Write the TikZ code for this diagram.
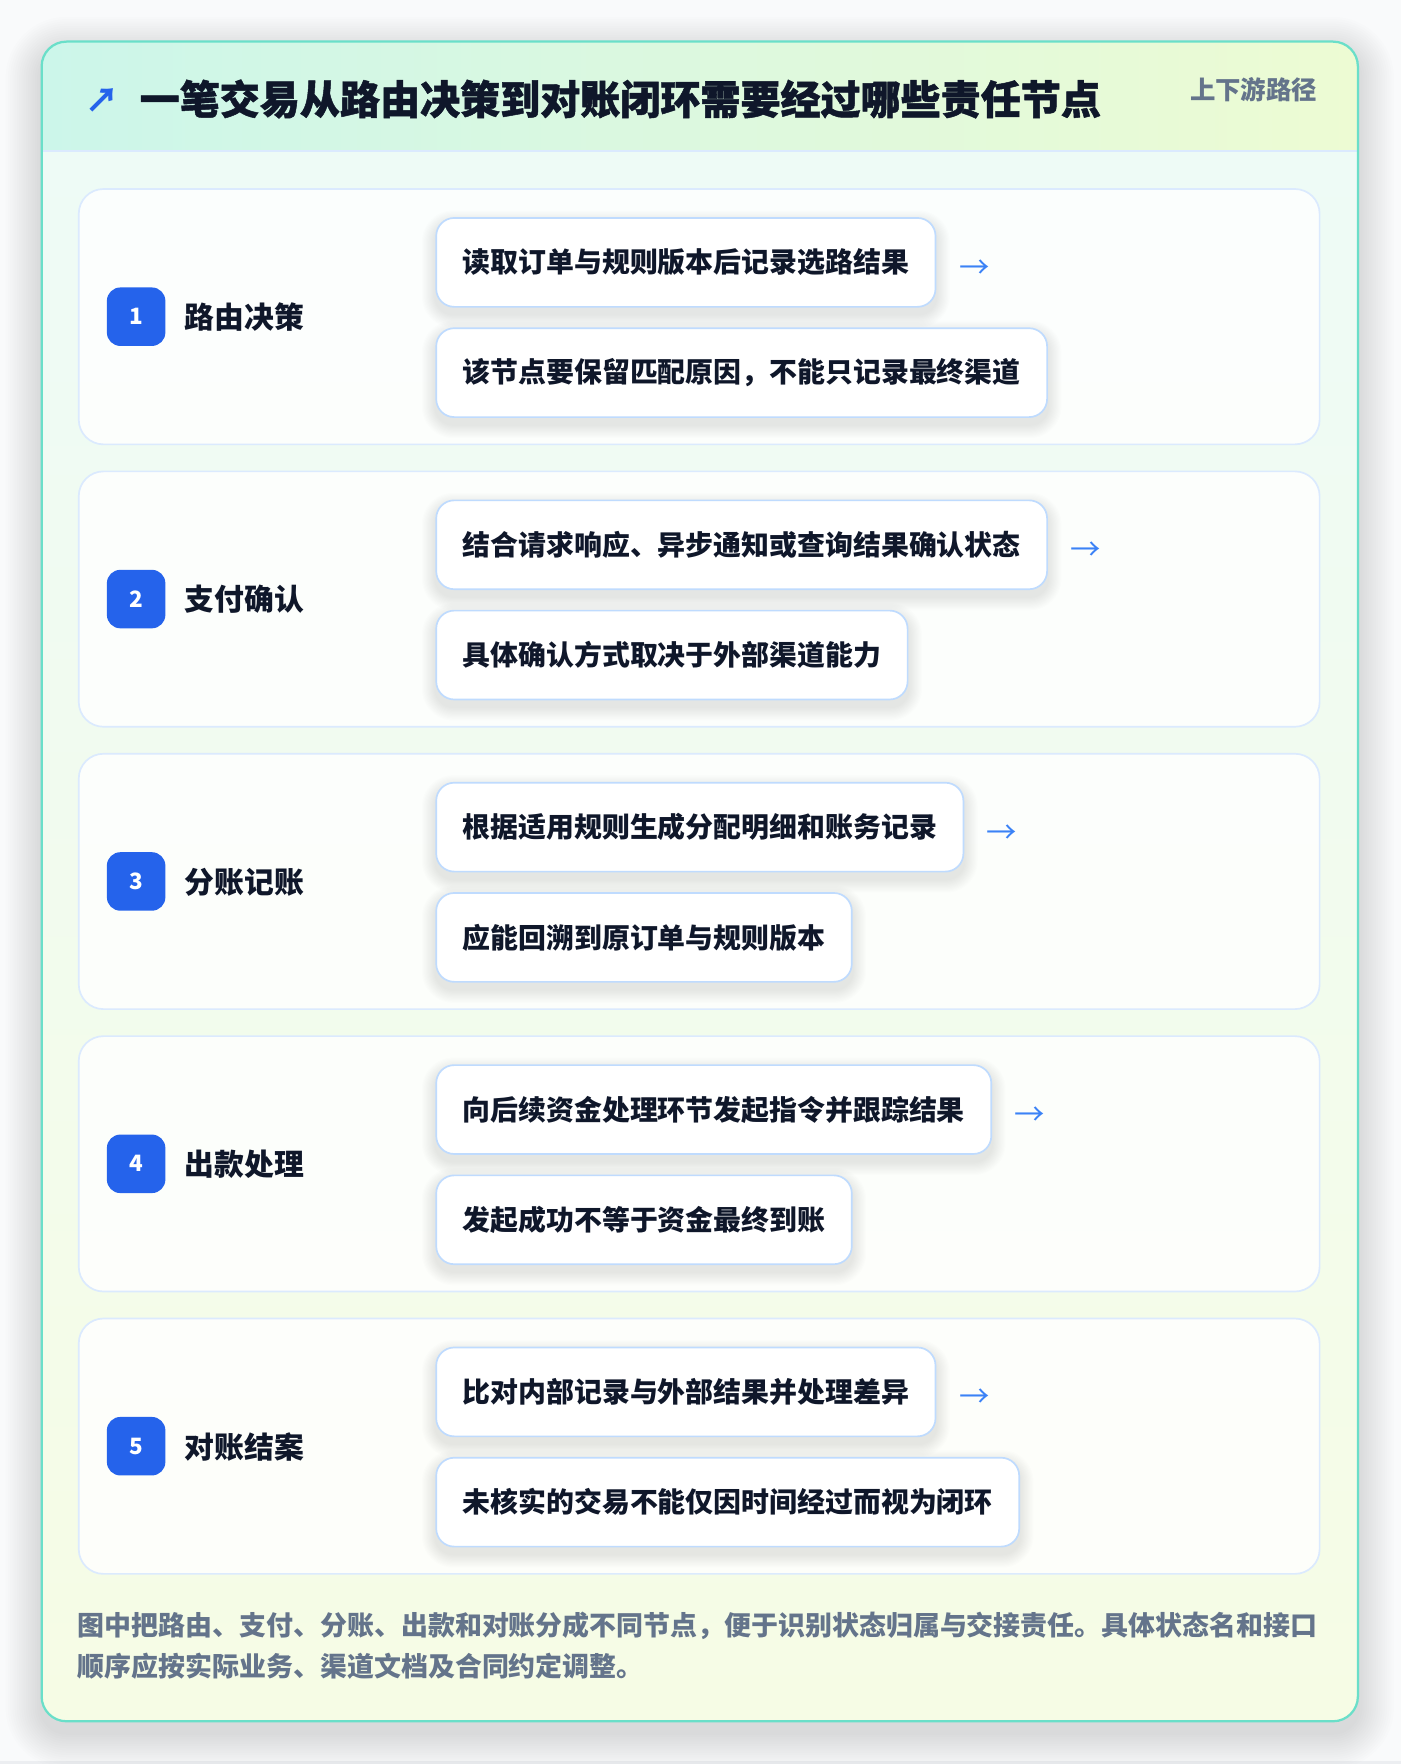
\documentclass[tikz,border=0pt]{standalone}
\usepackage{fontspec}
\setmainfont{Noto Sans CJK SC}
\newfontfamily\titlefont{Noto Sans CJK SC}[BoldFeatures={FakeBold=1.2}]
\definecolor{pagebg}{HTML}{F9FAFB}
\definecolor{cardborder}{HTML}{6ADFC9}
\definecolor{hdrL}{HTML}{CCF6EA}
\definecolor{hdrR}{HTML}{EDFBD3}
\definecolor{bodyT}{HTML}{EEFBF6}
\definecolor{bodyB}{HTML}{F6FCE5}
\definecolor{stepborder}{HTML}{DBEAFE}
\definecolor{detborder}{HTML}{BFDBFE}
\definecolor{badgeblue}{HTML}{2563EB}
\definecolor{ink}{HTML}{0F172A}
\definecolor{muted}{HTML}{64748B}
\definecolor{arrowc}{HTML}{3B82F6}
\definecolor{bottomband}{HTML}{ECEEF1}
\definecolor{shadowc}{HTML}{1E293B}
\pgfdeclarelayer{back}
\pgfdeclarelayer{steps}
\pgfdeclarelayer{shade}
\pgfsetlayers{back,steps,shade,main}
\tikzset{
  stepbox/.style={draw=stepborder, line width=1.5pt, rounded corners=22pt, fill=white, fill opacity=0.82},
  badgebox/.style={fill=badgeblue, rounded corners=12pt, minimum width=52pt, minimum height=52pt, inner sep=0pt,
    text=white, font=\bfseries\fontsize{20}{24}\selectfont},
  steplabel/.style={anchor=west, inner sep=0pt, text=ink, font=\bfseries\fontsize{26.5}{30}\selectfont},
  detbox/.style={anchor=north west, draw=detborder, line width=1.5pt, rounded corners=16pt, fill=white,
    minimum height=79pt, inner xsep=23.5pt, inner ysep=0pt, text=ink, font=\bfseries\fontsize{24.8}{28}\selectfont},
  softshade/.style={fill=shadowc, opacity=0.009},
  flowarrow/.style={anchor=west, inner sep=0pt, text=arrowc, font=\fontsize{27}{28}\selectfont},
  foottext/.style={anchor=west, inner sep=0pt, text=muted, font=\bfseries\fontsize{23.95}{30}\selectfont},
}
\begin{document}
\begin{tikzpicture}[x=1pt, y=-1pt]
\useasboundingbox (0,0) rectangle (1245,1568);
\begin{pgfonlayer}{back}
\fill[pagebg] (0,0) rectangle (1245,1568);
\fill[bottomband] (0,1565) rectangle (1245,1568);
% card shadow
\foreach \k in {1,...,16}{
  \pgfmathsetmacro{\rr}{22+2*\k}
  \fill[softshade, rounded corners=\rr pt] (37-2*\k,47-2*\k) rectangle (1207+2*\k,1540+2*\k);
}
% card
\fill[bodyB, rounded corners=22pt] (37,37) rectangle (1207,1530);
\begin{scope}
  \clip[rounded corners=22pt] (37,37) rectangle (1207,1530);
  \shade[top color=bodyT, bottom color=bodyB] (37,134) rectangle (1207,1530);
  \shade[left color=hdrL, right color=hdrR] (37,37) rectangle (1207,134);
\end{scope}
\draw[stepborder, line width=1.5pt] (37,134) -- (1207,134);
\draw[cardborder, line width=2pt, rounded corners=22pt] (37,37) rectangle (1207,1530);
\end{pgfonlayer}
% title
\node[anchor=center, inner sep=0pt, text=badgeblue, font=\bfseries\fontsize{30}{32}\selectfont] (ticon) at (91,89) {↗};
\node[anchor=west, inner sep=0pt, text=ink, font=\titlefont\bfseries\fontsize{35.6}{40}\selectfont] (title) at (124,88)
  {一笔交易从路由决策到对账闭环需要经过哪些责任节点};
\node[anchor=east, inner sep=0pt, text=muted, font=\bfseries\fontsize{22.6}{26}\selectfont] (tag) at (1171,80) {上下游路径};
% steps
\foreach \i/\num/\lab/\da/\db in {
  0/1/路由决策/读取订单与规则版本后记录选路结果/该节点要保留匹配原因，不能只记录最终渠道,
  1/2/支付确认/结合请求响应、异步通知或查询结果确认状态/具体确认方式取决于外部渠道能力,
  2/3/分账记账/根据适用规则生成分配明细和账务记录/应能回溯到原订单与规则版本,
  3/4/出款处理/向后续资金处理环节发起指令并跟踪结果/发起成功不等于资金最终到账,
  4/5/对账结案/比对内部记录与外部结果并处理差异/未核实的交易不能仅因时间经过而视为闭环}{
  \pgfmathsetmacro{\yy}{168+251*\i}
  \begin{pgfonlayer}{steps}
    \draw[stepbox] (70,\yy) rectangle (1173,\yy+227);
  \end{pgfonlayer}
  \node[badgebox] (badge\num) at (121,\yy+113.5) {\num};
  \node[steplabel] (label\num) at (164,\yy+114) {\lab};
  \node[detbox] (deta\num) at (387,\yy+25) {\da};
  \node[detbox] (detb\num) at (387,\yy+123) {\db};
  \node[flowarrow] (arr\num) at ([xshift=20pt,yshift=-6pt]deta\num.east) {→};
  \begin{pgfonlayer}{shade}
    \foreach \k in {1,...,12}{
      \pgfmathsetmacro{\rr}{16+\k}
      \fill[softshade, opacity=0.007, rounded corners=\rr pt]
        ([xshift=-\k pt, yshift=\k pt-6pt]deta\num.north west) rectangle ([xshift=\k pt, yshift=-\k pt-6pt]deta\num.south east);
      \fill[softshade, opacity=0.007, rounded corners=\rr pt]
        ([xshift=-\k pt, yshift=\k pt-6pt]detb\num.north west) rectangle ([xshift=\k pt, yshift=-\k pt-6pt]detb\num.south east);
    }
  \end{pgfonlayer}
}
% footer
\node[foottext] (foot1) at (69,1445) {图中把路由、支付、分账、出款和对账分成不同节点，便于识别状态归属与交接责任。具体状态名和接口};
\node[foottext] (foot2) at (69,1481) {顺序应按实际业务、渠道文档及合同约定调整。};
\end{tikzpicture}
\end{document}
